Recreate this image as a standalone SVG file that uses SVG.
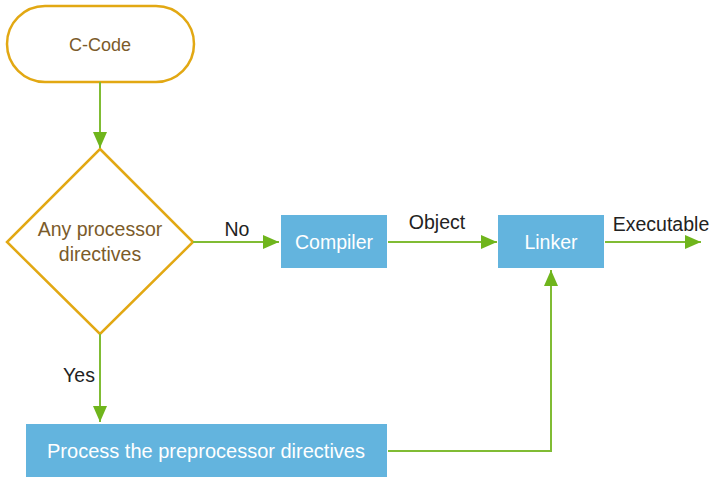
<svg xmlns="http://www.w3.org/2000/svg" width="712" height="477" viewBox="0 0 712 477">
<style>
.term{fill:#fff;stroke:#E2A813;stroke-width:2.5}
.box{fill:#63B4DE}
.conn{fill:none;stroke:#80BC34;stroke-width:2}
.t{font-family:"Liberation Sans",Arial,sans-serif;font-size:19.5px;text-anchor:middle}
.brown{fill:#7B5B2A}
.white{fill:#fff}
.lbl{fill:#222}
</style>
<defs>
<marker id="ah" markerWidth="16" markerHeight="14" refX="16" refY="7" orient="auto" markerUnits="userSpaceOnUse">
<path d="M0,0 L16,7 L0,14 Z" fill="#6FB51C"/>
</marker>
</defs>
<g id="c-code">
<rect class="term" x="7" y="6" width="187" height="76" rx="38" ry="38"/>
<text class="t brown" x="100" y="51" style="font-size:18px">C-Code</text>
</g>
<g id="decision">
<polygon class="term" points="100,149 193,242 100,334 7,242"/>
<text class="t brown" x="100" y="236">Any processor</text>
<text class="t brown" x="100" y="261">directives</text>
</g>
<g id="compiler">
<rect class="box" x="281" y="215" width="106" height="53"/>
<text class="t white" x="334" y="249">Compiler</text>
</g>
<g id="linker">
<rect class="box" x="498" y="215" width="106" height="53"/>
<text class="t white" x="551" y="249">Linker</text>
</g>
<g id="process">
<rect class="box" x="26" y="424" width="361" height="53"/>
<text class="t white" x="206" y="458" style="font-size:20px">Process the preprocessor directives</text>
</g>
<g id="connectors">
<path class="conn" d="M100,82 V148" marker-end="url(#ah)"/>
<path class="conn" d="M193,242 H279" marker-end="url(#ah)"/>
<path class="conn" d="M388,242 H497" marker-end="url(#ah)"/>
<path class="conn" d="M605,242 H701" marker-end="url(#ah)"/>
<path class="conn" d="M100,334 V422" marker-end="url(#ah)"/>
<path class="conn" d="M388,451 H551 V270" marker-end="url(#ah)"/>
<text class="t lbl" x="237" y="236">No</text>
<text class="t lbl" x="437" y="229">Object</text>
<text class="t lbl" x="661" y="231">Executable</text>
<text class="t lbl" x="79" y="382">Yes</text>
</g>
</svg>
